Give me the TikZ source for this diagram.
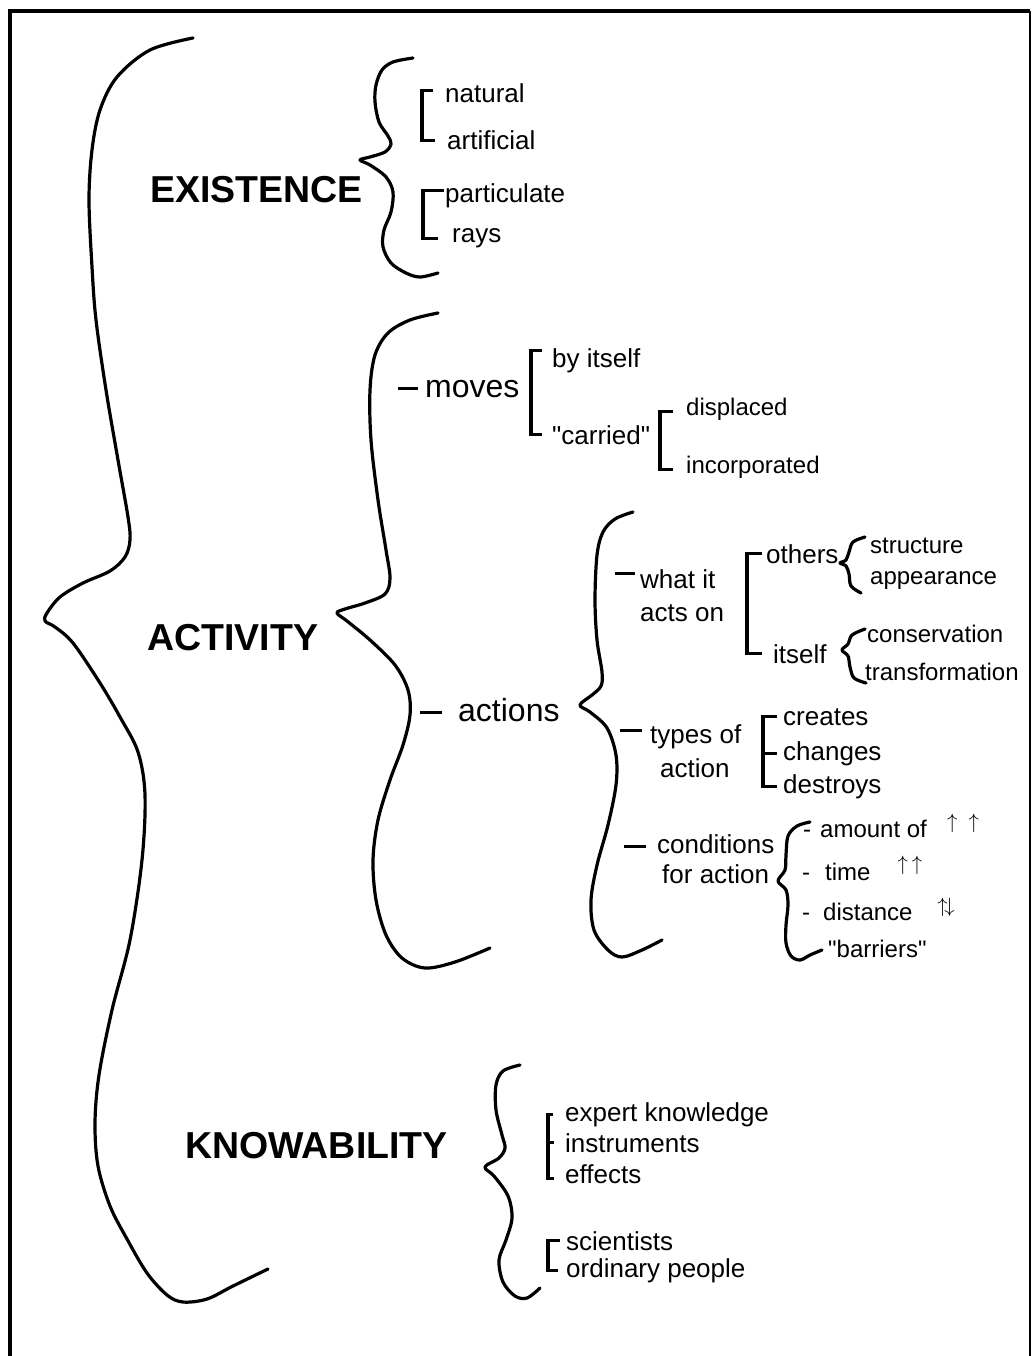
\documentclass[tikz,border=0pt]{standalone}
\usepackage{fontspec}
\newfontfamily\diagfont{Liberation Sans}
\usetikzlibrary{calc}
\tikzset{
  head/.style={anchor=base west,inner sep=0pt,font=\diagfont\fontsize{37.5}{42}\selectfont\bfseries},
  sub/.style={anchor=base west,inner sep=0pt,font=\diagfont\fontsize{32}{37}\selectfont},
  item/.style={anchor=base west,inner sep=0pt,font=\diagfont\fontsize{26}{31}\selectfont},
  leaf/.style={anchor=base west,inner sep=0pt,font=\diagfont\fontsize{24}{29}\selectfont},
  trend/.style={inner sep=0pt,font=\fontsize{20}{24}\selectfont},
  brace/.style={line width=3.2pt,line cap=round,line join=round},
  bracket/.style={line width=3.3pt},
  lead/.style={line width=2.5pt},
}

\begin{document}
\begin{tikzpicture}[x=1pt,y=-1pt]
\useasboundingbox (0,0) rectangle (1033,1356);
% frame, open at the bottom
\draw[line width=4pt] (10,1356) -- (10,11) -- (1030,11);
\draw[line width=2.5pt] (1030,11) -- (1030,1356);
% main headings
\node[head] (exist) at (150,203) {EXISTENCE};
\node[head] (activ) at (147,650) {ACTIVITY};
\node[head] (know) at (185,1158) {KNOWABILITY};
% big brace
\draw[brace] plot[smooth,tension=.55] coordinates {(193,38) (150,50) (117,77) (100,110) (92,150) (89,200) (92,267) (96,320) (106,390) (118,460) (128,517) (130,540) (125,557) (110,571) (83,583) (60,597) (47,613) (45,621) (55,627) (73,643) (100,683) (120,717) (138,752) (145,795) (142,860) (130,940) (112,1010) (99,1075) (95,1123) (98,1166) (110,1206) (127,1239) (147,1273) (167,1295) (183,1302) (207,1299) (233,1286) (268,1269)};
% existence
\draw[brace] plot[smooth,tension=.55] coordinates {(413,58) (393,62) (382,70) (376,85) (375,102) (379,122) (388,136) (391,144) (385,152) (370,157) (360,160) (370,165) (386,177) (393,192) (391,212) (384,230) (383,247) (391,263) (406,273) (420,277) (438,273)};
\node[item] (nat) at (445,103) {natural};
\node[item] (art) at (447,150) {artificial};
\node[item] (part) at (445,203) {particulate};
\node[item] (rays) at (452,243) {rays};
\draw[bracket] ([xshift=-12pt,yshift=3pt]nat.west) -| ([xshift=-25pt]art.west) -- ([xshift=-12pt]art.west);
\draw[bracket] ([xshift=-1pt,yshift=6pt]part.west) -| ([xshift=-29pt]rays.west) -- ([xshift=-14pt]rays.west);
% activity
\draw[brace] plot[smooth,tension=.55] coordinates {(438,313) (410,320) (388,333) (375,355) (370,390) (371,440) (378,500) (386,550) (390,578) (385,594) (365,603) (345,609) (337,613) (347,621) (370,640) (395,665) (408,690) (410,715) (403,745) (390,780) (378,820) (373,860) (376,900) (386,935) (402,958) (425,968) (455,962) (490,948)};
\node[sub] (moves) at (425,397) {moves};
\draw[lead] ([xshift=-27pt]moves.west) -- ++(20,0);
\node[item] (byit) at (552,367) {by itself};
\node[item] (carr) at (552,444) {"carried"};
\draw[bracket] ([xshift=-10pt,yshift=10pt]byit.west) -| ([xshift=-21pt]carr.west) -- ([xshift=-10pt]carr.west);
\node[leaf] (disp) at (686,415) {displaced};
\node[leaf] (inco) at (686,473) {incorporated};
\draw[bracket] ([xshift=-13pt,yshift=-3pt]disp.west) -| ([xshift=-26pt,yshift=-3pt]inco.west) -- ([xshift=-13pt,yshift=-3pt]inco.west);
\node[sub] (acts) at (458,721) {actions};
\draw[lead] ([xshift=-38pt,yshift=-3pt]acts.west) -- ++(22,0);
% actions
\draw[brace] plot[smooth,tension=.55] coordinates {(633,512) (615,519) (603,532) (597,555) (595,600) (597,640) (602,672) (601,686) (592,695) (580,705) (590,712) (607,728) (616,755) (616,785) (608,825) (597,865) (591,900) (594,930) (608,950) (622,957) (642,950) (662,940)};
\node[item] (whatit) at (640,588) {what it};
\node[item] (actson) at (640,621) {acts on};
\draw[lead] ([xshift=-25pt,yshift=5pt]whatit.west) -- ++(20,0);
\node[item] (oth) at (766,563) {others};
\node[item] (its) at (773,663) {itself};
\draw[bracket] ([xshift=-4pt]oth.west) -| ([xshift=-26pt]its.west) -- ([xshift=-11pt]its.west);
\draw[brace] plot[smooth,tension=.55] coordinates {(865,537) (853,542) (849,552) (846,560) (840,563) (846,566) (849,574) (851,586) (861,593)};
\node[leaf] (struc) at (870,553) {structure};
\node[leaf] (appe) at (870,584) {appearance};
\draw[brace] plot[smooth,tension=.55] coordinates {(865,629) (852,635) (848,644) (842,650) (848,656) (850,667) (854,678) (866,683)};
\node[leaf] (cons) at (867,642) {conservation};
\node[leaf] (trans) at (865,680) {transformation};
\node[item] (types) at (650,743) {types of};
\node[item] (typac) at (660,777) {action};
\draw[lead] ([xshift=-30pt,yshift=6pt]types.west) -- ++(22,0);
\node[item] (cre) at (783,725) {creates};
\node[item] (cha) at (783,760) {changes};
\node[item] (des) at (783,793) {destroys};
\draw[bracket] ([xshift=-6pt]cre.west) -| ([xshift=-20pt]des.west) -- ([xshift=-6pt]des.west);
\draw[bracket] ([xshift=-20pt]cha.west) -- ([xshift=-6pt]cha.west);
\node[item] (cond) at (657,853) {conditions};
\node[item] (forac) at (662,883) {for action};
\draw[lead] ([xshift=-33pt,yshift=-3pt]cond.west) -- ++(22,0);
\draw[brace] plot[smooth,tension=.55] coordinates {(810,822) (797,826) (788,836) (786,855) (785,870) (778,881) (786,890) (788,905) (786,925) (786,943) (791,956) (800,960) (810,955) (822,950)};
\node[leaf] (amou) at (803,837) {-\hspace{9pt}amount of};
\node[leaf] (time) at (802,880) {-\hspace{15pt}time};
\node[leaf] (dist) at (802,920) {-\hspace{13pt}distance};
\node[leaf] (barr) at (828,957) {"barriers"};
\node[trend] (upa) at (963,823) {$\uparrow\hspace{11pt}\uparrow$};
\node[trend] (upt) at (910,865) {$\uparrow\hspace{4pt}\uparrow$};
\node[trend] (upd) at (946,907) {$\uparrow\!\downarrow$};
% knowability
\draw[brace] plot[smooth,tension=.55] coordinates {(520,1065) (503,1071) (496,1085) (496,1110) (502,1135) (505,1148) (499,1158) (485,1167) (494,1176) (508,1196) (512,1218) (506,1240) (499,1260) (503,1282) (515,1296) (527,1298) (540,1288)};
\node[item] (ek) at (565,1121) {expert knowledge};
\node[item] (ins) at (565,1152) {instruments};
\node[item] (eff) at (565,1183) {effects};
\draw[bracket] ([xshift=-12pt]ek.west) -| ([xshift=-17pt,yshift=-5pt]eff.west) -- ([xshift=-11pt,yshift=-5pt]eff.west);
\draw[bracket] ([xshift=-17pt]ins.west) -- ([xshift=-11pt]ins.west);
\node[item] (sci) at (566,1250) {scientists};
\node[item] (ord) at (566,1277) {ordinary people};
\draw[bracket] ([xshift=-6pt]sci.west) -| ([xshift=-18pt]ord.west) -- ([xshift=-8pt]ord.west);
\end{tikzpicture}
\end{document}
